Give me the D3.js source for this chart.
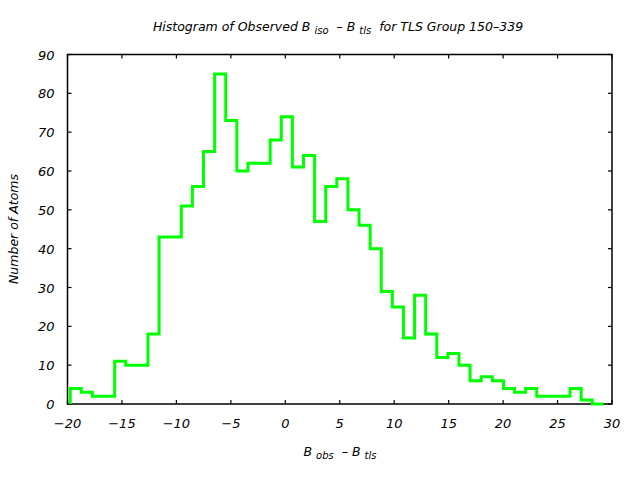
<!DOCTYPE html>
<html><head><meta charset="utf-8">
<script src="https://cdn.jsdelivr.net/npm/d3@7"></script>
<style>
body{margin:0;background:#fff;}
text{font-family:"DejaVu Sans",sans-serif;font-style:italic;fill:#000;}
</style></head>
<body><svg id="c" width="640" height="480"></svg>
<script>
// Histogram bin lower edges (B_obs - B_tls) and counts
const binEdges = [-19.75,-18.73,-17.71,-16.69,-15.67,-14.65,-13.63,-12.61,-11.59,-10.57,
  -9.55,-8.53,-7.51,-6.49,-5.47,-4.45,-3.43,-2.41,-1.39,-0.37,
  0.65,1.67,2.69,3.71,4.73,5.75,6.77,7.79,8.81,9.83,
  10.85,11.87,12.89,13.91,14.93,15.95,16.97,17.99,19.01,20.03,
  21.05,22.07,23.09,24.11,25.13,26.15,27.17,28.19,29.21];
const counts = [4,3,2,2,11,10,10,18,43,43,
  51,56,65,85,73,60,62,62,68,74,
  61,64,47,56,58,50,46,40,29,25,
  17,28,18,12,13,10,6,7,6,4,
  3,4,2,2,2,4,1,0];
const xTicks = [-20,-15,-10,-5,0,5,10,15,20,25,30];
const yTicks = [0,10,20,30,40,50,60,70,80,90];

const svg = d3.select("#c");
const L = 67.5, R = 612, T = 54.5, B = 404;
const x = d3.scaleLinear().domain([-20,30]).range([L,R]);
const y = d3.scaleLinear().domain([0,90]).range([B,T]);
const fmt = d => d < 0 ? "\u2212" + Math.abs(d) : String(d);

// frame
svg.append("rect").attr("x",L).attr("y",T).attr("width",R-L).attr("height",B-T)
  .attr("fill","none").attr("stroke","#000").attr("stroke-width",1.5);

const tl = 4;
const g = svg.append("g").attr("stroke","#000").attr("stroke-width",1.2);
xTicks.forEach(t=>{
  g.append("line").attr("x1",x(t)).attr("x2",x(t)).attr("y1",B).attr("y2",B-tl);
  g.append("line").attr("x1",x(t)).attr("x2",x(t)).attr("y1",T).attr("y2",T+tl);
});
yTicks.forEach(t=>{
  g.append("line").attr("x1",L).attr("x2",L+tl).attr("y1",y(t)).attr("y2",y(t));
  g.append("line").attr("x1",R).attr("x2",R-tl).attr("y1",y(t)).attr("y2",y(t));
});

svg.append("g").selectAll("text").data(xTicks).join("text")
  .attr("x",d=>x(d)).attr("y",B+24).attr("text-anchor","middle")
  .attr("font-size",13).text(fmt);
svg.append("g").selectAll("text").data(yTicks).join("text")
  .attr("x",L-13).attr("y",d=>y(d)+5).attr("text-anchor","end")
  .attr("font-size",13).text(fmt);

// histogram steps
const pts = [[binEdges[0],0]];
counts.forEach((c,i)=>{ pts.push([binEdges[i],c]); pts.push([binEdges[i+1],c]); });
const line = d3.line().x(d=>x(d[0])).y(d=>y(d[1]));
svg.append("path").attr("d",line(pts)).attr("fill","none")
  .attr("stroke","#00ff00").attr("stroke-width",3).attr("stroke-linejoin","miter");

// titles
const t = svg.append("text").attr("x",338).attr("y",31).attr("text-anchor","middle").attr("font-size",12.5);
t.append("tspan").text("Histogram of Observed B ");
t.append("tspan").attr("font-size",10).attr("dy",3).text("iso");
t.append("tspan").attr("dy",-3).attr("dx",4).text(" \u2013 B ");
t.append("tspan").attr("font-size",10).attr("dy",3).text("tls");
t.append("tspan").attr("dy",-3).attr("dx",4).text(" for TLS Group 150\u2013339");

const xl = svg.append("text").attr("x",340).attr("y",456).attr("text-anchor","middle").attr("font-size",12.5);
xl.append("tspan").text("B ");
xl.append("tspan").attr("font-size",10).attr("dy",3).text("obs");
xl.append("tspan").attr("dy",-3).attr("dx",4).text(" \u2013 B ");
xl.append("tspan").attr("font-size",10).attr("dy",3).text("tls");

svg.append("text").attr("transform","translate(18,229) rotate(-90)")
  .attr("text-anchor","middle").attr("font-size",12.5).text("Number of Atoms");
</script></body></html>
